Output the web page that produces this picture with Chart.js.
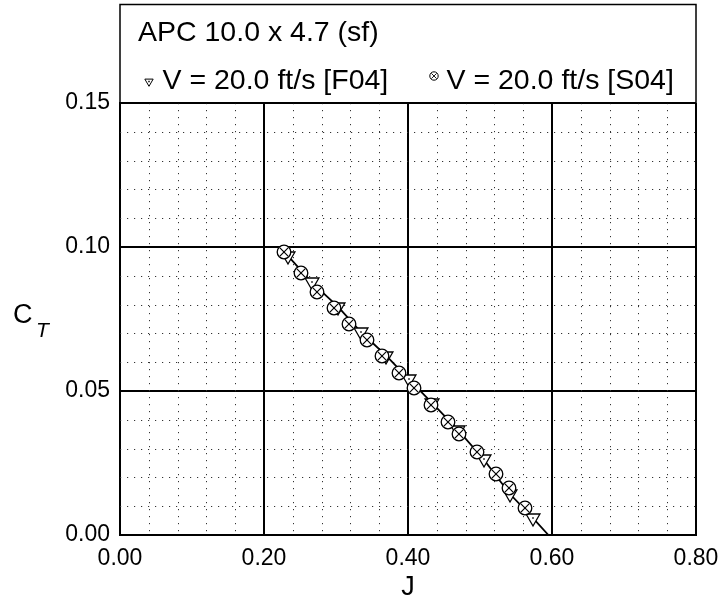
<!DOCTYPE html>
<html>
<head>
<meta charset="utf-8">
<script src="https://cdn.jsdelivr.net/npm/chart.js@4"></script>
<style>
  body { margin: 0; background: #fff; }
  canvas { display: block; }
</style>
</head>
<body>
<canvas id="ctChart" width="721" height="602"></canvas>
<script>
// APC 10.0 x 4.7 (sf), V = 20 ft/s
const f04J  = [0.233, 0.266, 0.303, 0.335, 0.370, 0.401, 0.434, 0.469, 0.505, 0.541, 0.573];
const f04CT = [0.0970, 0.0878, 0.0792, 0.0704, 0.0622, 0.0541, 0.0457, 0.0366, 0.0263, 0.0144, 0.0060];

const s04J  = [0.228, 0.251, 0.274, 0.297, 0.318, 0.343, 0.364, 0.387, 0.408, 0.432, 0.455, 0.471, 0.496, 0.522, 0.540, 0.562];
const s04CT = [0.0984, 0.0910, 0.0844, 0.0787, 0.0734, 0.0676, 0.0621, 0.0564, 0.0511, 0.0452, 0.0392, 0.0351, 0.0288, 0.0212, 0.0162, 0.0095];

// solid curve (runs on to the axis)
const curveJ  = [0.233, 0.266, 0.303, 0.335, 0.370, 0.401, 0.434, 0.469, 0.505, 0.541, 0.573, 0.595];
const curveCT = [0.0970, 0.0878, 0.0792, 0.0704, 0.0622, 0.0541, 0.0457, 0.0366, 0.0263, 0.0144, 0.0060, 0.0000];

const xTicks = [0.00, 0.20, 0.40, 0.60, 0.80];
const yTicks = [0.00, 0.05, 0.10, 0.15];

const titleText = 'APC 10.0 x 4.7 (sf)';
const f04Label = 'V = 20.0 ft/s [F04]';
const s04Label = 'V = 20.0 ft/s [S04]';

const FONT = '"Liberation Sans", Arial, Helvetica, sans-serif';

function toPoints(xs, ys) {
  return xs.map((x, i) => ({ x: x, y: ys[i] }));
}

function drawMarker(c, kind, x, y, r, lw) {
  c.save();
  c.lineWidth = lw;
  c.strokeStyle = '#000';
  c.fillStyle = '#fff';
  c.beginPath();
  if (kind === 'tri') {
    c.moveTo(x, y + r);
    c.lineTo(x - r * 0.866, y - r * 0.5);
    c.lineTo(x + r * 0.866, y - r * 0.5);
    c.closePath();
    c.fill();
    c.stroke();
    c.fillStyle = '#000';
    c.fillRect(x - 0.75, y - 0.75, 1.5, 1.5);
  } else {
    c.arc(x, y, r, 0, Math.PI * 2);
    c.fill();
    c.stroke();
    const d = r * 0.6;
    c.lineWidth = lw * 0.9;
    c.beginPath();
    c.moveTo(x - d, y - d); c.lineTo(x + d, y + d);
    c.moveTo(x + d, y - d); c.lineTo(x - d, y + d);
    c.stroke();
  }
  c.restore();
}

function markerCanvas(kind, r, lw) {
  const cv = document.createElement('canvas');
  cv.width = 22; cv.height = 22;
  drawMarker(cv.getContext('2d'), kind, 11, 11, r, lw);
  return cv;
}

const framePlugin = {
  id: 'frame',
  beforeDatasetsDraw(chart) {
    const { ctx, chartArea: a, scales } = chart;
    ctx.save();
    ctx.strokeStyle = '#333';
    ctx.lineWidth = 1;
    ctx.setLineDash([1.2, 5.8]);
    // minor dotted grid: 5 subdivisions per major step
    for (let i = 0; i < xTicks.length - 1; i++) {
      for (let k = 1; k < 5; k++) {
        const v = xTicks[i] + (xTicks[i + 1] - xTicks[i]) * k / 5;
        const px = Math.round(scales.x.getPixelForValue(v)) + 0.5;
        ctx.beginPath(); ctx.moveTo(px, a.top); ctx.lineTo(px, a.bottom); ctx.stroke();
      }
    }
    for (let i = 0; i < yTicks.length - 1; i++) {
      for (let k = 1; k < 5; k++) {
        const v = yTicks[i] + (yTicks[i + 1] - yTicks[i]) * k / 5;
        const py = Math.round(scales.y.getPixelForValue(v)) + 0.5;
        ctx.beginPath(); ctx.moveTo(a.left, py); ctx.lineTo(a.right, py); ctx.stroke();
      }
    }
    ctx.restore();
    // keep the marker images crisp at fractional positions
    ctx.imageSmoothingEnabled = false;
  },
  afterDraw(chart) {
    const { ctx, chartArea: a } = chart;
    ctx.save();
    ctx.imageSmoothingEnabled = true;
    // legend box above the plot
    ctx.strokeStyle = '#000';
    ctx.lineWidth = 1.5;
    ctx.strokeRect(a.left, 4.5, a.right - a.left, a.top - 4.5);

    ctx.fillStyle = '#000';
    ctx.textBaseline = 'alphabetic';
    ctx.textAlign = 'left';
    ctx.font = '28.5px ' + FONT;
    ctx.fillText(titleText, 138, 41);
    ctx.fillText(f04Label, 162.5, 88.5);
    ctx.fillText(s04Label, 446.5, 88.5);
    drawMarker(ctx, 'tri', 149, 81.5, 4.8, 1);
    drawMarker(ctx, 'circ', 434, 76, 4.2, 1);

    // axis titles
    ctx.font = '27px ' + FONT;
    ctx.fillText('C', 13, 322.5);
    ctx.font = 'italic 21px ' + FONT;
    ctx.fillText('T', 36, 336.5);
    ctx.font = '27px ' + FONT;
    ctx.textAlign = 'center';
    ctx.fillText('J', (a.left + a.right) / 2, 594.5);
    ctx.restore();
  }
};

const ctx = document.getElementById('ctChart').getContext('2d');
new Chart(ctx, {
  type: 'scatter',
  data: {
    datasets: [
      {
        label: s04Label,
        data: toPoints(s04J, s04CT),
        pointStyle: markerCanvas('circ', 6.8, 1.3),
        pointRadius: 7,
        showLine: false
      },
      {
        label: f04Label,
        data: toPoints(f04J, f04CT),
        pointStyle: markerCanvas('tri', 8, 1.3),
        pointRadius: 7,
        showLine: false
      },
      {
        label: 'curve',
        data: toPoints(curveJ, curveCT),
        showLine: true,
        borderColor: '#000',
        borderWidth: 1.8,
        pointRadius: 0,
        fill: false
      }
    ]
  },
  options: {
    responsive: false,
    animation: false,
    layout: { padding: { top: 103, right: 25, left: 0, bottom: 0 } },
    plugins: {
      legend: { display: false },
      tooltip: { enabled: false }
    },
    scales: {
      x: {
        type: 'linear',
        min: 0, max: 0.8,
        afterFit: s => { s.height = 67; s.paddingLeft = 0; s.paddingRight = 0; },
        afterBuildTicks: s => { s.ticks = xTicks.map(v => ({ value: v })); },
        ticks: {
          color: '#000',
          font: { family: FONT, size: 23 },
          padding: 10,
          maxRotation: 0,
          callback: v => Number(v).toFixed(2)
        },
        grid: { color: '#000', lineWidth: 2, drawTicks: false },
        border: { display: true, color: '#000', width: 2 }
      },
      y: {
        type: 'linear',
        min: 0, max: 0.15,
        afterFit: s => { s.width = 120; s.paddingTop = 0; s.paddingBottom = 0; },
        afterBuildTicks: s => { s.ticks = yTicks.map(v => ({ value: v })); },
        ticks: {
          color: '#000',
          font: { family: FONT, size: 23 },
          padding: 10,
          callback: v => Number(v).toFixed(2)
        },
        grid: { color: '#000', lineWidth: 2, drawTicks: false },
        border: { display: true, color: '#000', width: 2 }
      }
    }
  },
  plugins: [framePlugin]
});
</script>
</body>
</html>
